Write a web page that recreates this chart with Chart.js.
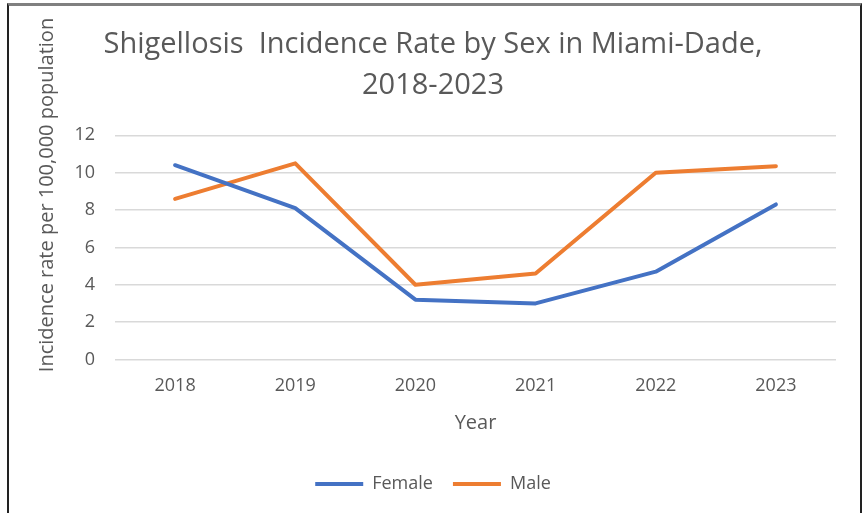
<!DOCTYPE html>
<html>
<head>
<meta charset="utf-8">
<script src="https://cdn.jsdelivr.net/npm/chart.js@4.4.1/dist/chart.umd.min.js"></script>
<style>
  html, body { margin: 0; padding: 0; background: #fff; }
  #wrap { position: relative; width: 866px; height: 513px; overflow: hidden; }
  #frame {
    position: absolute; left: 7px; top: 3px; width: 851px; height: 530px;
    border-top: 3px solid #808080; border-left: 2px solid #222; border-right: 2px solid #222;
    pointer-events: none;
  }
</style>
</head>
<body>
<div id="wrap">
  <canvas id="myChart" width="866" height="513"></canvas>
  <div id="frame"></div>
</div>
<script>
const years = ['2018', '2019', '2020', '2021', '2022', '2023'];
const female = [10.4, 8.1, 3.2, 3.0, 4.7, 8.3];
const male = [8.6, 10.5, 4.0, 4.6, 10.0, 10.35];
const yTicks = [0, 2, 4, 6, 8, 10, 12];

const grey = '#595959';
const font = '"Open Sans", sans-serif';

// y axis title drawn by hand so it sits where Excel put it
const yTitle = {
  id: 'yTitle',
  afterDraw(chart) {
    const c = chart.ctx;
    c.save();
    c.translate(47, 195);
    c.rotate(-Math.PI / 2);
    c.font = '20px ' + font;
    c.fillStyle = grey;
    c.textAlign = 'center';
    c.textBaseline = 'middle';
    c.fillText('Incidence rate per 100,000 population', 0, 0);
    c.restore();
  }
};

const ctx = document.getElementById('myChart');

new Chart(ctx, {
  type: 'line',
  data: {
    labels: years,
    datasets: [{
      label: 'Female',
      data: female,
      borderColor: '#4472C4',
      backgroundColor: '#4472C4',
      borderWidth: 4,
      borderCapStyle: 'round',
      borderJoinStyle: 'round',
      pointRadius: 0,
      tension: 0
    }, {
      label: 'Male',
      data: male,
      borderColor: '#ED7D31',
      backgroundColor: '#ED7D31',
      borderWidth: 4,
      borderCapStyle: 'round',
      borderJoinStyle: 'round',
      pointRadius: 0,
      tension: 0
    }]
  },
  options: {
    responsive: false,
    animation: false,
    layout: { padding: { left: 30, right: 30, top: 0, bottom: 10 } },
    plugins: {
      title: {
        display: true,
        text: ['Shigellosis  Incidence Rate by Sex in Miami-Dade,', '2018-2023'],
        color: grey,
        font: { family: font, size: 29, weight: 'normal', lineHeight: 1.42 },
        padding: { top: 24, bottom: 29 }
      },
      legend: {
        position: 'bottom',
        labels: {
          usePointStyle: true,
          pointStyle: 'line',
          pointStyleWidth: 48,
          color: grey,
          font: { family: font, size: 18 },
          padding: 20
        }
      },
      tooltip: { enabled: false }
    },
    scales: {
      x: {
        offset: true,
        grid: { display: false, drawTicks: false },
        border: { display: false },
        ticks: { color: grey, font: { family: font, size: 18 }, padding: 16 },
        title: {
          display: true,
          text: 'Year',
          color: grey,
          font: { family: font, size: 20, lineHeight: 1.0 },
          padding: { top: 0, bottom: 22 }
        }
      },
      y: {
        min: 0,
        max: 12,
        afterFit(scale) { scale.width = 85; },
        afterBuildTicks(scale) { scale.ticks = yTicks.map(v => ({ value: v })); },
        grid: { color: '#d9d9d9', lineWidth: 1.5, drawTicks: false },
        border: { display: false },
        ticks: { color: grey, font: { family: font, size: 18 }, padding: 20 }
      }
    }
  },
  plugins: [yTitle]
});
</script>
</body>
</html>
